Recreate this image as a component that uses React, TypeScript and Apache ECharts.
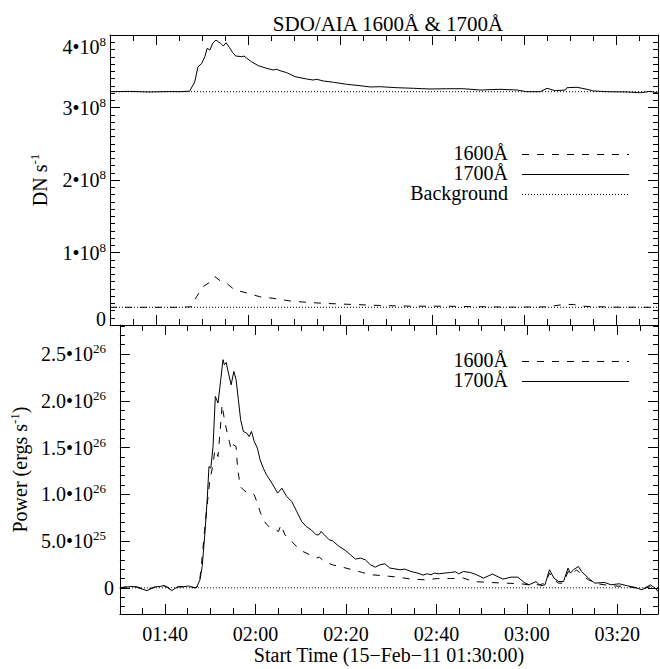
import { useEffect, useRef } from "react";
import * as echarts from "echarts";

const FONT = "Liberation Serif, Times New Roman, serif";

const chartTitle = "SDO/AIA 1600Å & 1700Å";
const xAxisTitle = "Start Time (15\u2212Feb\u221211 01:30:00)";
const topYTitle = "{m|DN s}{s|-1}";
const botYTitle = "{m|Power (ergs s}{s|-1}{m|)}";

// x values: minutes after 01:30:00
const xMinMinutes = 0;
const xMaxMinutes = 119;
const xMajorMinutes = [10, 30, 50, 70, 90, 110];
const xMajorLabels = ["01:40", "02:00", "02:20", "02:40", "03:00", "03:20"];
const xMinorMinutes = [0, 5, 15, 20, 25, 35, 40, 45, 55, 60, 65, 75, 80, 85, 95, 100, 105, 115];

// top panel (DN s^-1, in units of 1e8)
const topScale = 1e8;
const topMin = 0;
const topMax = 4;
const topInterval = 1;
const top1700T = [0, 4.3, 8.6, 13, 15.2, 17.3, 18.4, 19.1, 19.9, 20.6, 21.1, 21.7, 22.3, 23.0, 23.5, 24.0, 24.6, 25.2, 25.9, 26.6, 27.3, 28.6, 29.1, 29.7, 30.7, 32.2, 34.0, 35.4, 36.2, 36.9, 38.4, 40.2, 42.7, 44.1, 44.9, 46.3, 48.5, 51.4, 54.3, 56.5, 58.6, 62.3, 65.9, 69.5, 73.1, 76.7, 80.4, 84.7, 88.4, 90.5, 93.4, 94.9, 96.7, 98.9, 99.2, 101.4, 103.6, 105.0, 107.9, 112.3, 115.2, 117.3, 119];
const top1700V = [3.218, 3.222, 3.214, 3.220, 3.218, 3.225, 3.353, 3.56, 3.607, 3.701, 3.817, 3.793, 3.886, 3.931, 3.908, 3.886, 3.848, 3.894, 3.83, 3.761, 3.71, 3.701, 3.71, 3.679, 3.632, 3.577, 3.541, 3.517, 3.527, 3.508, 3.48, 3.425, 3.393, 3.379, 3.389, 3.366, 3.348, 3.32, 3.301, 3.283, 3.287, 3.273, 3.265, 3.255, 3.259, 3.259, 3.241, 3.251, 3.241, 3.218, 3.218, 3.265, 3.232, 3.241, 3.273, 3.279, 3.251, 3.228, 3.218, 3.214, 3.204, 3.223, 3.2];
const top1600T = [0, 15.2, 17.7, 18.8, 20.2, 21.3, 22.0, 22.8, 23.9, 25.3, 27.1, 29.7, 32.5, 35.4, 39.1, 42.7, 47.0, 52.8, 58.6, 65.9, 73.1, 80.4, 87.6, 94.9, 98.5, 100.7, 102.1, 109.4, 119];
const top1600V = [0.244, 0.244, 0.252, 0.39, 0.528, 0.575, 0.597, 0.666, 0.611, 0.575, 0.483, 0.443, 0.39, 0.368, 0.331, 0.313, 0.297, 0.283, 0.269, 0.259, 0.259, 0.252, 0.246, 0.25, 0.283, 0.283, 0.259, 0.246, 0.244];
const topBackground1700 = 3.218;
const topBackground1600 = 0.244;

// bottom panel (ergs s^-1, in units of 1e26)
const botScale = 1e26;
const botMin = -0.28;
const botMax = 2.81;
const botMajorTicks = [0, 0.5, 1.0, 1.5, 2.0, 2.5];
const botMinorTicks = [-0.2, -0.1, 0.1, 0.2, 0.3, 0.4, 0.6, 0.7, 0.8, 0.9, 1.1, 1.2, 1.3, 1.4, 1.6, 1.7, 1.8, 1.9, 2.1, 2.2, 2.3, 2.4, 2.6, 2.7, 2.8];
const bot1700T = [0, 1.2, 2.4, 3.6, 4.7, 6.0, 6.9, 7.9, 8.9, 9.8, 10.6, 11.5, 12.2, 13.0, 14.1, 15.2, 16.0, 16.6, 17.0, 17.7, 18.2, 18.8, 19.3, 19.7, 20.1, 20.6, 21.1, 21.7, 22.3, 22.8, 23.1, 23.5, 24.0, 24.6, 25.2, 25.7, 26.2, 26.7, 27.3, 28.0, 28.6, 29.1, 29.7, 30.4, 31.0, 31.7, 32.4, 33.6, 34.9, 35.8, 36.9, 38.0, 39.1, 40.2, 41.2, 42.3, 43.4, 44.0, 44.5, 45.2, 46.3, 47.0, 48.5, 49.9, 51.0, 52.1, 53.2, 54.3, 55.4, 56.5, 57.5, 58.6, 59.7, 60.8, 61.9, 63.0, 64.4, 65.9, 67.0, 68.0, 68.8, 69.5, 70.6, 71.7, 73.1, 74.2, 74.9, 76.0, 77.5, 78.9, 80.4, 82.4, 84.7, 86.5, 88.0, 89.4, 90.5, 92.0, 93.0, 94.0, 95.0, 96.0, 97.0, 98.1, 99.1, 99.6, 100.3, 101.4, 102.1, 103.6, 105.0, 107.2, 108.6, 110.4, 112.3, 113.7, 115.5, 117.3, 118.4, 119];
const bot1700V = [0, 0.005, 0.015, 0.01, -0.01, -0.03, -0.01, 0.01, 0.015, 0.025, 0.0, -0.03, -0.005, 0.01, 0.012, 0.02, 0.005, 0.0, 0.01, 0.085, 0.228, 0.585, 0.941, 1.297, 1.28, 1.511, 2.046, 1.975, 2.225, 2.439, 2.385, 2.41, 2.296, 2.171, 2.313, 2.225, 2.011, 1.797, 1.672, 1.655, 1.618, 1.672, 1.565, 1.494, 1.369, 1.28, 1.209, 1.12, 1.013, 1.066, 0.976, 0.923, 0.816, 0.709, 0.656, 0.62, 0.567, 0.567, 0.602, 0.567, 0.513, 0.503, 0.442, 0.399, 0.353, 0.307, 0.318, 0.299, 0.246, 0.221, 0.246, 0.257, 0.211, 0.203, 0.193, 0.2, 0.174, 0.157, 0.136, 0.15, 0.139, 0.157, 0.15, 0.157, 0.164, 0.171, 0.15, 0.174, 0.164, 0.139, 0.104, 0.147, 0.093, 0.114, 0.114, 0.057, 0.032, 0.067, 0.021, 0.032, 0.193, 0.104, 0.067, 0.067, 0.211, 0.157, 0.193, 0.228, 0.174, 0.104, 0.05, 0.057, 0.032, 0.043, 0.021, 0.007, -0.021, 0.032, -0.003, -0.04];
const bot1600T = [0, 1.2, 2.4, 3.6, 4.7, 6.0, 6.9, 7.9, 8.9, 9.8, 10.6, 11.5, 12.2, 13.0, 14.1, 15.2, 16.0, 16.6, 17.0, 17.6, 18.0, 18.8, 19.1, 19.9, 20.6, 21.0, 21.7, 22.0, 22.4, 22.6, 23.0, 23.5, 24.2, 24.6, 25.1, 25.7, 26.0, 26.6, 27.3, 28.2, 28.9, 29.7, 30.4, 31.1, 32.2, 33.3, 34.4, 35.1, 35.6, 36.5, 37.6, 39.1, 40.5, 42.0, 43.4, 44.1, 45.2, 47.0, 49.2, 51.4, 53.6, 55.7, 58.6, 61.5, 64.4, 67.3, 70.2, 73.1, 76.0, 78.2, 81.8, 85.4, 88.7, 90.5, 92.7, 94.1, 95.0, 96.0, 97.0, 98.1, 99.1, 99.9, 101.0, 102.1, 103.6, 105.7, 108.6, 112.3, 115.5, 117.3, 119];
const bot1600V = [0, 0.01, 0.01, 0.012, -0.005, -0.025, -0.005, 0.012, 0.01, 0.02, 0.005, -0.025, 0.0, 0.012, 0.01, 0.015, 0.01, 0.0, 0.005, 0.06, 0.228, 0.656, 0.799, 1.155, 1.316, 1.476, 1.404, 1.583, 1.815, 1.957, 1.832, 1.708, 1.565, 1.476, 1.529, 1.511, 1.297, 1.083, 1.048, 1.013, 1.013, 0.995, 0.906, 0.799, 0.692, 0.638, 0.62, 0.602, 0.674, 0.567, 0.513, 0.442, 0.388, 0.353, 0.318, 0.328, 0.281, 0.246, 0.221, 0.193, 0.164, 0.139, 0.128, 0.114, 0.093, 0.086, 0.099, 0.099, 0.104, 0.067, 0.057, 0.05, 0.043, 0.032, 0.032, 0.05, 0.157, 0.086, 0.05, 0.05, 0.174, 0.139, 0.193, 0.139, 0.086, 0.043, 0.021, 0.014, -0.014, 0.014, -0.029];
const botBackground = 0;

const legendTop = ["1600Å", "1700Å", "Background"];
const legendBottom = ["1600Å", "1700Å"];

const DASH = [7, 8];
const DOT = [1, 2];

const zip = (t: number[], v: number[], s: number) => t.map((m, i) => [m, v[i] * s]);

const sci = (v: number, digits: number, sup: string, zeroStyle: string) => {
  if (v === 0) return `{${zeroStyle}|0}`;
  const [mant, ex] = v.toExponential(digits).split("e");
  return `{m|${mant}\u202210}{${sup}|${parseInt(ex, 10)}}`;
};

export default function App() {
  const ref = useRef<HTMLDivElement>(null);
  useEffect(() => {
    if (!ref.current) return;
    const chart = echarts.init(ref.current, undefined, { renderer: "svg" });
    const black = "#000";
    const richM = { fontFamily: FONT, fontSize: 20, lineHeight: 24, color: black };
    const richS = { fontFamily: FONT, fontSize: 13, lineHeight: 13, verticalAlign: "top", color: black };
    const rich = {
      m: richM,
      s: richS,
      sb: { ...richS, padding: [0, 8, 0, 0] },
      z: { ...richM, padding: [0, 0, 12, 0] },
    };
    const tickStyle = { color: black, width: 1 };
    const axisLine = (show: boolean) => ({ show, onZero: false, lineStyle: { color: black, width: 1 } });

    const mkX = (grid: number, position: string, ticks: number[], len: number, main: boolean, labeled: boolean) => ({
      type: "value",
      gridIndex: grid,
      position,
      min: xMinMinutes,
      max: xMaxMinutes,
      axisLine: axisLine(main),
      axisTick: { show: true, inside: true, length: len, customValues: ticks, lineStyle: tickStyle },
      axisLabel: labeled
        ? {
            show: true,
            customValues: xMajorMinutes,
            margin: 10,
            fontFamily: FONT,
            fontSize: 20,
            lineHeight: 20,
            color: black,
            formatter: (v: number) => {
              const i = xMajorMinutes.indexOf(v);
              return i >= 0 ? xMajorLabels[i] : "";
            },
          }
        : { show: false },
      splitLine: { show: false },
      ...(labeled
        ? {
            name: xAxisTitle,
            nameLocation: "middle",
            nameGap: 31,
            nameTextStyle: { fontFamily: FONT, fontSize: 20, lineHeight: 20, color: black },
          }
        : {}),
    });

    const xAxes = [
      mkX(0, "bottom", xMajorMinutes, 10, true, false),
      mkX(0, "bottom", xMinorMinutes, 6, false, false),
      mkX(0, "top", xMajorMinutes, 10, true, false),
      mkX(0, "top", xMinorMinutes, 6, false, false),
      mkX(1, "bottom", xMajorMinutes, 10, true, true),
      mkX(1, "bottom", xMinorMinutes, 6, false, false),
      mkX(1, "top", xMajorMinutes, 10, true, false),
      mkX(1, "top", xMinorMinutes, 6, false, false),
    ];

    const topY = (position: string, labeled: boolean) => ({
      type: "value",
      gridIndex: 0,
      position,
      min: topMin * topScale,
      max: topMax * topScale,
      interval: topInterval * topScale,
      axisLine: axisLine(true),
      axisTick: { show: true, inside: true, length: 10, lineStyle: tickStyle },
      minorTick: { show: true, splitNumber: 10, length: 5, lineStyle: tickStyle },
      splitLine: { show: false },
      minorSplitLine: { show: false },
      axisLabel: labeled
        ? {
            show: true,
            margin: 4,
            rich,
            formatter: (v: number) => sci(v, 0, "s", "z"),
            verticalAlignMaxLabel: "top",
          }
        : { show: false },
      ...(labeled
        ? {
            name: topYTitle,
            nameLocation: "middle",
            nameRotate: 90,
            nameGap: 58,
            nameTextStyle: { fontFamily: FONT, fontSize: 20, color: black, rich },
          }
        : {}),
    });

    const botY = (position: string, ticks: number[], len: number, main: boolean, labeled: boolean) => ({
      type: "value",
      gridIndex: 1,
      position,
      min: botMin * botScale,
      max: botMax * botScale,
      axisLine: axisLine(main),
      axisTick: { show: true, inside: true, length: len, customValues: ticks.map((t) => t * botScale), lineStyle: tickStyle },
      splitLine: { show: false },
      axisLabel: labeled
        ? {
            show: true,
            margin: 6,
            rich,
            customValues: botMajorTicks.map((t) => t * botScale),
            formatter: (v: number) => sci(v, 1, "sb", "m"),
          }
        : { show: false },
      ...(labeled
        ? {
            name: botYTitle,
            nameLocation: "middle",
            nameRotate: 90,
            nameGap: 79,
            nameTextStyle: { fontFamily: FONT, fontSize: 20, color: black, rich },
          }
        : {}),
    });

    const yAxes = [
      topY("left", true),
      topY("right", false),
      botY("left", botMajorTicks, 10, true, true),
      botY("left", botMinorTicks, 5, false, false),
      botY("right", botMajorTicks, 10, true, false),
      botY("right", botMinorTicks, 5, false, false),
    ];

    const line = (name: string, xi: number, yi: number, data: number[][], type: any) => ({
      type: "line",
      name,
      xAxisIndex: xi,
      yAxisIndex: yi,
      data,
      symbol: "none",
      showSymbol: false,
      silent: true,
      lineStyle: { color: black, width: 1, type },
      z: 3,
    });

    const legendText = (text: string, y: number) => ({
      type: "text",
      x: 508,
      y,
      style: {
        text,
        fontFamily: FONT,
        fontSize: 20,
        fill: black,
        align: "right",
        verticalAlign: "middle",
        textAlign: "right",
        textVerticalAlign: "middle",
      },
    });
    const legendLine = (y: number, dash: number[] | null) => ({
      type: "line",
      shape: { x1: 522, y1: y, x2: 629, y2: y },
      style: { stroke: black, lineWidth: 1, lineDash: dash || undefined },
    });

    chart.setOption({
      animation: false,
      backgroundColor: "#fff",
      title: {
        text: chartTitle,
        left: 383,
        top: 8,
        textAlign: "center",
        textStyle: { fontFamily: FONT, fontSize: 21, fontWeight: "normal", color: black, lineHeight: 21 },
      },
      grid: [
        { left: 110, right: 2, top: 35, height: 290, containLabel: false },
        { left: 110, right: 2, top: 325, height: 289, containLabel: false },
      ],
      xAxis: xAxes,
      yAxis: yAxes,
      series: [
        line("1700Å", 0, 0, zip(top1700T, top1700V, topScale), "solid"),
        line("1600Å", 0, 0, zip(top1600T, top1600V, topScale), DASH),
        line("Background", 0, 0, [[xMinMinutes, topBackground1700 * topScale], [xMaxMinutes, topBackground1700 * topScale]], DOT),
        line("Background", 0, 0, [[xMinMinutes, topBackground1600 * topScale], [xMaxMinutes, topBackground1600 * topScale]], DOT),
        line("1700Å", 4, 2, zip(bot1700T, bot1700V, botScale), "solid"),
        line("1600Å", 4, 2, zip(bot1600T, bot1600V, botScale), DASH),
        line("Background", 4, 2, [[xMinMinutes, botBackground], [xMaxMinutes, botBackground]], DOT),
      ],
      graphic: [
        legendText(legendTop[0], 153),
        legendLine(154.5, DASH),
        legendText(legendTop[1], 173),
        legendLine(174.5, null),
        legendText(legendTop[2], 193),
        legendLine(194.5, DOT),
        legendText(legendBottom[0], 360),
        legendLine(361.5, DASH),
        legendText(legendBottom[1], 380),
        legendLine(381.5, null),
      ],
    });
    return () => chart.dispose();
  }, []);
  return <div ref={ref} style={{ position: "absolute", left: 0, top: 0, width: 660, height: 669 }} />;
}
